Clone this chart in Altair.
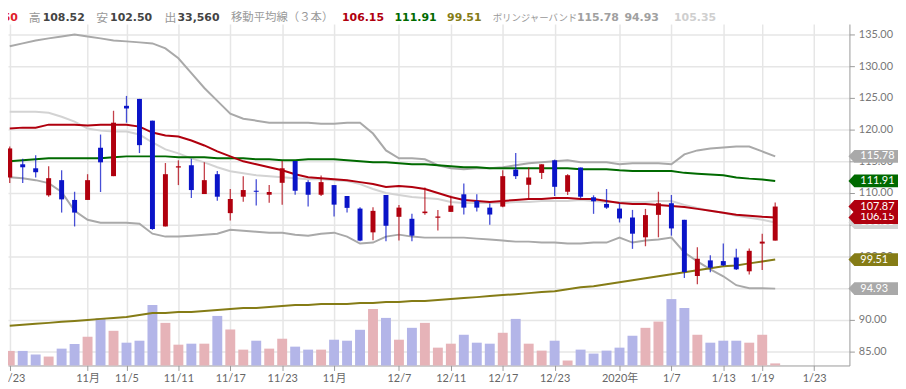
import altair as alt
import pandas as pd

# ---------------- data ----------------
idx = list(range(60))
opens = [112.45, 114.53, 113.90, 109.64, 112.03, 108.91, 108.91, 117.14, 112.66, 123.75,
         124.84, 121.41, 104.73, 114.02, 114.38, 109.84, 112.97, 106.83, 109.42, 110.36,
         109.73, 111.61, 115.05, 111.72, 109.73, 111.25, 109.53, 107.55, 103.80, 109.69,
         106.25, 105.94, 106.83, 106.10, 107.03, 109.80, 108.75, 107.70, 107.86, 113.70,
         111.30, 113.17, 115.16, 110.20, 114.02, 109.33, 108.28, 107.55, 106.14, 103.02,
         106.56, 108.39, 105.78, 96.92, 99.38, 99.27, 99.84, 97.66, 102.03, 102.50]
highs = [117.34, 115.42, 115.94, 114.22, 113.59, 110.20, 112.97, 119.22, 122.97, 125.31,
         124.84, 121.41, 114.73, 115.16, 115.42, 114.84, 113.48, 110.63, 112.66, 112.19,
         111.25, 115.05, 115.05, 112.03, 112.77, 111.25, 109.53, 107.77, 107.77, 109.69,
         108.13, 106.72, 110.89, 107.34, 109.58, 111.52, 109.80, 108.33, 113.59, 116.30,
         114.02, 114.53, 115.27, 112.97, 114.02, 109.64, 110.63, 108.39, 107.34, 107.50,
         110.20, 109.69, 105.78, 101.45, 100.20, 102.03, 101.20, 101.25, 103.59, 108.52]
lows = [111.60, 111.60, 112.45, 109.42, 106.92, 104.73, 108.91, 110.16, 112.66, 121.09,
        116.30, 104.20, 104.73, 111.25, 109.22, 109.84, 108.80, 105.67, 108.64, 108.02,
        108.48, 108.17, 109.73, 107.86, 109.53, 106.30, 106.92, 102.39, 102.55, 102.39,
        102.50, 102.39, 106.56, 104.11, 107.03, 106.61, 107.08, 105.00, 107.77, 112.23,
        109.11, 112.23, 109.53, 109.69, 109.17, 106.72, 107.50, 105.36, 101.20, 101.61,
        103.02, 103.28, 96.61, 95.63, 97.50, 98.48, 97.86, 97.14, 97.86, 102.50]
closes = [117.03, 114.06, 113.28, 112.34, 109.00, 106.92, 112.03, 114.84, 121.09, 123.33,
          117.55, 104.33, 112.97, 114.22, 110.47, 112.03, 109.42, 109.06, 110.47, 110.20,
          110.16, 113.90, 110.36, 109.73, 111.72, 108.17, 107.66, 102.50, 107.19, 104.84,
          107.70, 103.28, 107.08, 106.30, 108.02, 107.70, 107.70, 106.61, 112.66, 112.66,
          112.45, 114.53, 110.98, 112.81, 109.42, 108.70, 107.70, 105.99, 103.59, 106.52,
          108.39, 104.42, 97.55, 99.64, 98.23, 98.59, 97.97, 100.89, 102.34, 107.87]
volumes = [235000, 235000, 176000, 144000, 272000, 347000, 464000, 763000, 560000, 368000,
           400000, 976000, 688000, 336000, 352000, 352000, 800000, 581000, 256000, 400000,
           272000, 432000, 304000, 256000, 256000, 416000, 400000, 576000, 912000, 768000,
           416000, 608000, 688000, 288000, 352000, 496000, 368000, 352000, 528000, 752000,
           352000, 240000, 400000, 80000, 256000, 192000, 240000, 288000, 480000, 608000,
           709000, 1072000, 928000, 496000, 368000, 400000, 400000, 368000, 496000, 33560]
ma_red = [120.16, 120.31, 120.31, 120.78, 120.78, 120.78, 120.63, 120.78, 120.78, 120.78,
          120.47, 119.53, 119.06, 118.91, 118.28, 117.50, 116.56, 115.78, 115.00, 114.53,
          114.06, 113.59, 112.97, 112.50, 112.34, 112.19, 112.03, 111.72, 111.41, 110.94,
          111.09, 110.94, 110.63, 110.00, 109.38, 108.91, 108.75, 108.59, 108.75, 108.91,
          109.06, 109.06, 109.22, 109.22, 109.06, 109.06, 108.75, 108.44, 108.28, 108.28,
          108.13, 107.97, 107.81, 107.50, 107.19, 106.88, 106.56, 106.41, 106.25, 106.15]
ma_green = [115.00, 115.16, 115.31, 115.47, 115.47, 115.47, 115.47, 115.47, 115.63, 115.78,
            115.78, 115.78, 115.78, 115.63, 115.63, 115.63, 115.47, 115.47, 115.47, 115.31,
            115.31, 115.16, 115.16, 115.31, 115.31, 115.31, 115.16, 115.00, 114.84, 114.84,
            114.69, 114.53, 114.53, 114.38, 114.22, 114.06, 114.06, 113.91, 113.91, 113.91,
            113.91, 113.91, 113.91, 113.91, 113.75, 113.75, 113.75, 113.59, 113.48, 113.48,
            113.48, 113.48, 113.18, 113.05, 112.92, 112.81, 112.45, 112.27, 112.14, 111.91]
ma_olive = [89.06, 89.22, 89.38, 89.53, 89.69, 89.84, 90.00, 90.16, 90.31, 90.47,
            90.78, 91.09, 91.09, 91.25, 91.25, 91.41, 91.56, 91.72, 91.88, 91.88,
            92.03, 92.19, 92.34, 92.34, 92.50, 92.50, 92.50, 92.66, 92.66, 92.81,
            92.81, 92.97, 92.97, 93.13, 93.28, 93.44, 93.59, 93.75, 93.91, 94.06,
            94.22, 94.38, 94.53, 94.84, 95.16, 95.31, 95.63, 95.94, 96.25, 96.56,
            96.88, 97.19, 97.50, 97.81, 98.13, 98.44, 98.59, 98.91, 99.22, 99.51]
bb_upper = [133.13, 133.59, 134.06, 134.38, 134.69, 135.00, 134.69, 134.38, 134.06, 133.91,
            133.75, 133.59, 132.81, 131.25, 128.91, 126.56, 124.53, 122.50, 121.72, 121.41,
            121.09, 121.09, 121.09, 121.09, 120.94, 120.94, 121.09, 121.09, 119.38, 116.72,
            115.47, 115.47, 115.31, 114.38, 113.91, 113.75, 113.91, 113.91, 114.06, 114.38,
            114.69, 114.84, 115.00, 115.16, 114.84, 114.84, 114.84, 114.53, 114.69, 114.69,
            114.69, 114.53, 116.09, 116.72, 117.03, 117.19, 117.34, 117.34, 116.56, 115.78]
bb_middle = [122.81, 122.81, 122.81, 122.66, 122.03, 121.25, 120.16, 119.84, 119.69, 119.69,
             119.22, 117.97, 116.88, 116.25, 115.47, 114.84, 114.06, 113.44, 113.13, 112.81,
             112.66, 112.50, 112.34, 112.19, 112.19, 112.03, 111.88, 111.41, 110.63, 110.00,
             109.69, 109.38, 109.22, 109.06, 108.59, 108.44, 108.44, 108.44, 108.44, 108.59,
             108.59, 108.75, 108.75, 108.75, 108.91, 108.75, 108.59, 108.59, 108.59, 108.59,
             108.75, 108.75, 108.13, 107.66, 107.19, 106.88, 106.41, 106.09, 105.78, 105.35]
bb_lower = [112.50, 112.34, 112.03, 111.56, 110.16, 107.19, 105.78, 105.31, 105.31, 105.31,
            105.16, 103.59, 103.13, 103.13, 103.28, 103.44, 103.59, 104.22, 104.06, 103.91,
            103.75, 103.75, 103.44, 103.28, 103.59, 103.75, 103.13, 102.03, 102.19, 103.13,
            103.44, 103.13, 102.97, 102.97, 102.97, 102.97, 102.81, 102.66, 102.50, 102.34,
            102.34, 102.19, 102.19, 102.03, 102.03, 102.19, 102.19, 102.97, 102.19, 102.50,
            102.66, 102.97, 100.63, 99.22, 97.97, 96.88, 95.47, 95.00, 95.00, 94.93]

tick_pos = [0, 6, 9, 13, 17, 21, 25, 30, 34, 38, 42, 47, 51, 55, 58, 62]
tick_labels = ["10/23", "11月", "11/5", "11/11", "11/17", "11/23", "11月", "12/7",
               "12/11", "12/17", "12/23", "2020年", "1/7", "1/13", "1/19", "1/23"]
price_ticks = [85, 90, 95, 100, 105, 110, 115, 120, 125, 130, 135]

tag_names = ["bb_mid", "bb_low", "olive", "ma_red", "close", "green", "bb_up"]
tag_values = [105.35, 94.93, 99.51, 106.15, 107.87, 111.91, 115.78]

# ---------------- styling ----------------
RED = "#b0000e"
BLUE = "#0a14c8"
VOL_RED = "#e6b3b8"
VOL_BLUE = "#b3b5e8"
GREEN = "#006a00"
OLIVE = "#857c16"
BB_GRAY = "#a9a9a9"
BB_MID = "#d3d3d3"
GRID = "#e6e6e6"
AX = "#9a9a9a"
TAG_COLORS = {"bb_mid": BB_MID, "bb_low": BB_GRAY, "olive": OLIVE, "ma_red": RED,
              "close": RED, "green": GREEN, "bb_up": BB_GRAY}

df = pd.DataFrame({
    "idx": idx, "open": opens, "high": highs, "low": lows, "close": closes,
    "volume": volumes, "ma_red": ma_red, "ma_green": ma_green, "ma_olive": ma_olive,
    "bb_upper": bb_upper, "bb_middle": bb_middle, "bb_lower": bb_lower,
})
tags = pd.DataFrame({"name": tag_names, "price": tag_values})
tags["label"] = tags["price"].map(lambda v: f"{v:.2f}")
one = pd.DataFrame({"k": [0]})

x_scale = alt.Scale(domain=[0.249, 64.34], nice=False, zero=False)
p_scale = alt.Scale(domain=[82.8125, 138.906], nice=False, zero=False)

label_expr = " : ".join(f"datum.value == {p} ? '{l}'" for p, l in zip(tick_pos, tick_labels)) + " : ''"
x_axis = alt.Axis(values=tick_pos, labelExpr=label_expr, grid=True, gridColor=GRID, gridWidth=1.5,
                  domainColor=AX, tickColor=AX, tickSize=5, labelColor="#666666",
                  labelFont="Lato, Noto Sans CJK JP", labelFontSize=11, labelPadding=2,
                  labelOverlap=False, labelFlush=False, labelBound=False, title=None)
y_axis = alt.Axis(orient="right", values=price_ticks, format=".2f", grid=True, gridColor=GRID,
                  gridWidth=1.5, domainColor=AX, tickColor=AX, tickSize=5, labelColor="#777777",
                  labelFont="Lato", labelFontSize=11, labelPadding=4, title=None)

X = alt.X("idx:Q", scale=x_scale, axis=x_axis)


def PY(field):
    return alt.Y(f"{field}:Q", scale=p_scale, axis=y_axis)


up = "datum.close >= datum.open"

base = alt.Chart(df)

volume = base.mark_bar(size=10).encode(
    x=X,
    y=alt.Y("volume:Q", scale=alt.Scale(domain=[0, 5744000], nice=False), axis=None),
    color=alt.condition(up, alt.value(VOL_RED), alt.value(VOL_BLUE)),
)


def line(field, color, width=2.0):
    return base.mark_line(color=color, strokeWidth=width).encode(x=X, y=PY(field))


wicks = base.mark_rule(strokeWidth=1.3, opacity=0.75).encode(
    x=X, y=PY("low"), y2="high:Q",
    color=alt.condition(up, alt.value(RED), alt.value(BLUE)))
bodies = base.mark_bar(size=5).encode(
    x=X, y=PY("open"), y2="close:Q",
    color=alt.condition(up, alt.value(RED), alt.value(BLUE)))

# price tags on the right axis: each tag (shape + text) drawn in turn
tag_path = "M -1 0 L -0.76 -0.26 L 1 -0.26 L 1 0.26 L -0.76 0.26 Z"
tag_layers = []
for name in tag_names:
    tsrc = alt.Chart(tags).transform_filter(alt.datum.name == name)
    tag_layers.append(tsrc.mark_point(shape=tag_path, filled=True, size=2500, opacity=1,
                                      color=TAG_COLORS[name]).encode(
        x=alt.value(873), y=PY("price")))
    tag_layers.append(tsrc.mark_text(align="left", baseline="middle", font="Lato", fontSize=11,
                                     color="white").encode(
        x=alt.value(860), y=PY("price"), text="label:N"))

price_group = alt.layer(
    line("bb_middle", BB_MID), line("bb_upper", BB_GRAY), line("bb_lower", BB_GRAY),
    line("ma_olive", OLIVE), line("ma_green", GREEN), line("ma_red", RED),
    wicks, bodies, *tag_layers,
)

header_bg = alt.Chart(one).mark_rect(color="white").encode(
    x=alt.value(0), x2=alt.value(898), y=alt.value(0), y2=alt.value(15))


def txt(s, x, color, size=11, weight="bold", font="DejaVu Sans", align="left"):
    return alt.Chart(one).mark_text(text=s, align=align, baseline="middle", font=font,
                                    fontSize=size, fontWeight=weight, color=color).encode(
        x=alt.value(x), y=alt.value(8))


JP = "Noto Sans CJK JP"
header = [
    txt("102.50", 10, "#e0202a", align="right"),
    txt("高", 21, "#999999", size=12, weight="normal", font=JP),
    txt("108.52", 35, "#444444"),
    txt("安", 89, "#999999", size=12, weight="normal", font=JP),
    txt("102.50", 103, "#444444"),
    txt("出", 158, "#999999", size=12, weight="normal", font=JP),
    txt("33,560", 171, "#444444"),
    txt("移動平均線（３本）", 225, "#999999", size=11.5, weight="normal", font=JP),
    txt("106.15", 337, RED),
    txt("111.91", 390, GREEN),
    txt("99.51", 443, OLIVE),
    txt("ボリンジャーバンド", 489, "#999999", size=9.5, weight="normal", font=JP),
    txt("115.78", 574, "#a0a0a0"),
    txt("94.93", 622, "#a0a0a0"),
    txt("105.35", 672, "#cfcfcf"),
]

chart = alt.layer(volume, price_group, header_bg, *header).resolve_scale(
    y="independent"
).properties(
    width=849, height=359,
    autosize=alt.AutoSizeParams(type="none"),
    padding={"left": 0, "top": 0, "right": 49, "bottom": 18},
).configure_view(stroke=None)

chart.save("out.html", embed_options={"renderer": "svg", "actions": False})
